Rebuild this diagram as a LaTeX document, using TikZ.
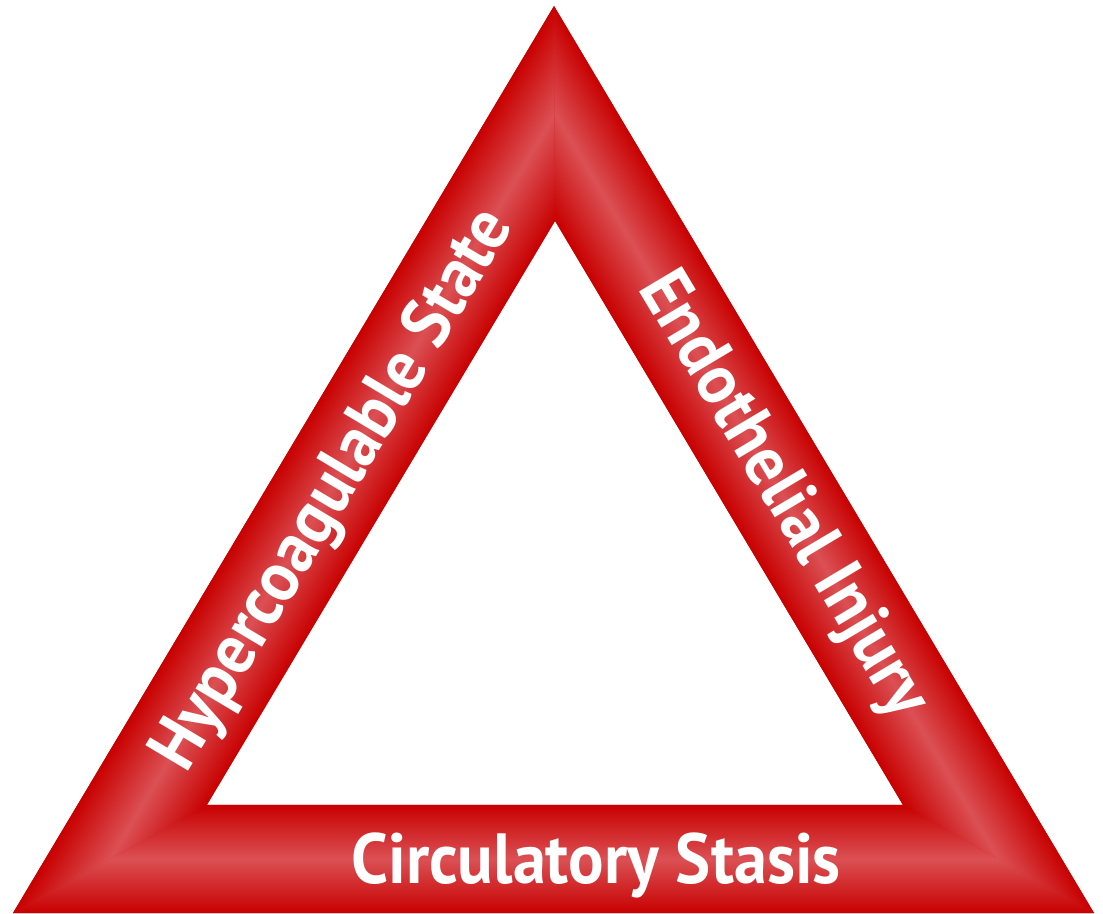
\documentclass[tikz,border=0pt]{standalone}
\usepackage{graphicx}
\usepackage{fontspec}
\setmainfont{PT Sans}
\definecolor{bandDark}{RGB}{200,0,0}
\definecolor{bandLight}{RGB}{219,80,84}
\newcommand{\narrowtxt}[1]{\scalebox{0.933}[1]{#1}}
\tikzset{
  lbl/.style={text=white, font=\bfseries\fontsize{71}{71}\selectfont, inner sep=0pt, anchor=base},
  bevel/.style={top color=bandDark, bottom color=bandDark, middle color=bandLight}
}
\begin{document}
\begin{tikzpicture}[x=1pt,y=1pt]
\useasboundingbox (0,0) rectangle (1103,913);
% outer triangle
\coordinate (A) at (554,907);
\coordinate (B) at (13,0);
\coordinate (C) at (1094,0);
% inner triangle
\coordinate (a) at (555,692);
\coordinate (b) at (207,108);
\coordinate (c) at (903,108);
% underlay
\fill[bandDark!60!bandLight, even odd rule] (A) -- (B) -- (C) -- cycle (a) -- (b) -- (c) -- cycle;
% left band
\begin{scope}
  \clip (B) -- (A) -- (a) -- (b) -- cycle;
  \begin{scope}[transform canvas={shift={(13pt,0pt)}, rotate=59.19}]
    \shade[bevel] (-100,-111) rectangle (1200,0);
  \end{scope}
\end{scope}
% right band
\begin{scope}
  \clip (A) -- (C) -- (c) -- (a) -- cycle;
  \begin{scope}[transform canvas={shift={(554pt,907pt)}, rotate=-59.23}]
    \shade[bevel] (-100,-109) rectangle (1200,0);
  \end{scope}
\end{scope}
% bottom band
\begin{scope}
  \clip (B) -- (C) -- (c) -- (b) -- cycle;
  \shade[bevel] (0,0) rectangle (1103,108);
\end{scope}
% labels
\node[lbl, rotate=59.19] (hyp) at (350,413) {\narrowtxt{Hypercoagulable State}};
\node[lbl, rotate=-59.23] (endo) at (767,408) {\narrowtxt{Endothelial Injury}};
\node[lbl] (circ) at (596,30) {\narrowtxt{Circulatory Stasis}};
\end{tikzpicture}
\end{document}
